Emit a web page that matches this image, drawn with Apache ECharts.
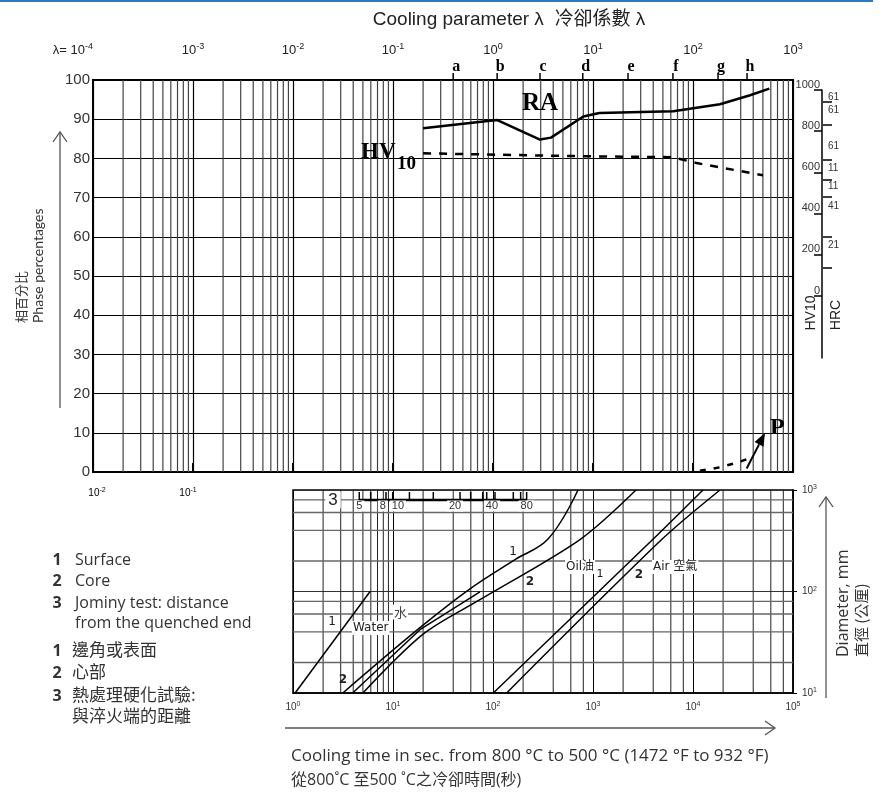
<!DOCTYPE html>
<html><head><meta charset="utf-8">
<script src="https://cdn.jsdelivr.net/npm/echarts@6.0.0/dist/echarts.min.js"></script>
<style>html,body{margin:0;padding:0;background:#fff;}#c{width:883px;height:792px;}</style>
</head><body><div id="c"></div>
<script>
// ---------- Upper chart: cooling parameter λ vs phase percentage ----------
const lambdaLetters = ['a','b','c','d','e','f','g','h'];
const lambdaLetterValues = [0.40, 1.1, 2.95, 7.9, 22.4, 63, 178, 347];
const raLambda = [0.2, 1.09, 2.95, 3.8, 8.0, 11.6, 63.5, 186, 372, 580];
const raPercent = [87.7, 89.8, 84.8, 85.3, 90.7, 91.6, 92.0, 93.8, 96.1, 97.8];
const hvLambda = [0.2, 5.9, 63, 109, 501];
const hvPercent = [81.3, 80.6, 80.3, 78.8, 75.7];
const pLambda = [117, 186, 275, 389];
const pPercent = [0.3, 1.2, 2.4, 3.7];
const pArrowFrom = [344, 0.9];
const pArrowTo = [525, 10];
// HV10 / HRC scale
const hvTicks = [0, 200, 400, 600, 800, 1000];
const hrcLabels = ['61', '61', '61', '11', '11', '41', '21'];
const hrcLabelHV = [967, 903, 725, 620, 531, 434, 248];
const hrcTickHV = [942, 830, 660, 563, 481, 286, 136];

// ---------- Lower chart: cooling time vs diameter ----------
const waterSurfaceTime = [1.05, 5.9];
const waterSurfaceDia = [10, 100];
const waterCoreTime = [3.95, 18.6, 74];
const waterCoreDia = [10, 42, 99];
const oilSurfaceTime = [3.15, 18.6, 57, 166, 357, 708];
const oilSurfaceDia = [10, 44, 104, 206, 330, 1000];
const oilCoreTime = [5.0, 20, 74, 741, 2692];
const oilCoreDia = [10, 38, 83, 325, 1000];
const airSurfaceTime = [100.7, 3954, 12589];
const airSurfaceDia = [10, 325, 1000];
const airCoreTime = [137, 4864, 18621];
const airCoreDia = [10, 325, 1000];
// Jominy distance scale (mm) placed at equivalent cooling times (s)
const jominyLabels = ['5', '8', '10', '20', '40', '80'];
const jominyLabelTime = [4.6, 7.9, 11.2, 41.7, 97.7, 217];
const jominyTickTime = [4.6, 5.98, 8.51, 9.93, 14.6, 25.3, 46.8, 59.8, 78.9, 86.5, 104.7, 159.6, 189, 217];

// ---------- helpers ----------
const zip = (a, b) => a.map((v, i) => [v, b[i]]);
const sansFont = '"Liberation Sans", Arial, sans-serif';
const expTxt = e => (e < 0 ? '-' + (-e) : '' + e);
function supLabel(v) {
  const e = Math.round(Math.log10(v));
  return '{b|10}{s|' + expTxt(e) + '}';
}
const richBig = {
  b: { fontSize: 13, color: '#222', fontFamily: sansFont },
  s: { fontSize: 9, color: '#222', fontFamily: sansFont, padding: [0, 0, 7, 0] }
};
const richSmall = {
  b: { fontSize: 10, color: '#333', fontFamily: sansFont },
  s: { fontSize: 7, color: '#333', fontFamily: sansFont, padding: [0, 0, 5, 0] }
};
function decadeMinor(lo, hi, mults) {
  const out = [];
  for (let k = lo; k < hi; k++) mults.forEach(m => out.push(m * Math.pow(10, k)));
  return out;
}
function vGridSeries(xi, yi, values, yv, color, width) {
  return {
    type: 'custom', xAxisIndex: xi, yAxisIndex: yi, silent: true, z: 1,
    data: values.map(v => [v, yv]),
    renderItem(params, api) {
      const cs = params.coordSys;
      const x = api.coord([api.value(0), api.value(1)])[0];
      return { type: 'line', shape: { x1: x, y1: cs.y, x2: x, y2: cs.y + cs.height },
               style: { stroke: color, lineWidth: width } };
    }
  };
}
function hGridSeries(xi, yi, values, xv, color, width) {
  return {
    type: 'custom', xAxisIndex: xi, yAxisIndex: yi, silent: true, z: 1,
    data: values.map(v => [xv, v]),
    renderItem(params, api) {
      const cs = params.coordSys;
      const y = api.coord([api.value(0), api.value(1)])[1];
      return { type: 'line', shape: { x1: cs.x, y1: y, x2: cs.x + cs.width, y2: y },
               style: { stroke: color, lineWidth: width } };
    }
  };
}
function curve(xi, yi, t, d, extra) {
  return Object.assign({
    type: 'line', xAxisIndex: xi, yAxisIndex: yi, data: zip(t, d), symbol: 'none',
    lineStyle: { color: '#000', width: 1.5 }, silent: true, z: 5, animation: false
  }, extra || {});
}

const upperMinor = decadeMinor(-4, 3, [2,3,4,5,6,7,8,9]);
const lowerMinorX = decadeMinor(0, 1, [2,3,4,5,6,7,8,9]).concat(decadeMinor(1, 5, [2,4,6,8]));
const lowerMinorY = decadeMinor(1, 3, [2,4,6,8]);

const chart = echarts.init(document.getElementById('c'), null, { renderer: 'canvas' });

function txt(x, y, text, o) {
  return { type: 'text', x, y, silent: true, z: 20, rotation: (o && o.rot) || 0,
    style: Object.assign({ text, fill: '#333', font: '15px "Lato", sans-serif', align: 'left', verticalAlign: 'middle' }, (o && o.style) || {}) };
}
function arrowV(x, yBottom, yTop) {
  return [
    { type: 'line', shape: { x1: x, y1: yBottom, x2: x, y2: yTop }, style: { stroke: '#555', lineWidth: 1.3 }, silent: true },
    { type: 'polyline', shape: { points: [[x - 7, yTop + 10], [x, yTop], [x + 7, yTop + 10]] }, style: { stroke: '#555', lineWidth: 1.3, fill: null }, silent: true }
  ];
}

const legendFont = '16px "Open Sans", "Noto Sans CJK TC", sans-serif';
const cjkFont = '17px "Noto Sans CJK TC", sans-serif';
const serifBold = px => 'bold ' + px + 'px "Liberation Serif", "DejaVu Serif", serif';

const graphics = [
  { type: 'rect', shape: { x: 0, y: 0, width: 873, height: 2 }, style: { fill: '#2a7abf' }, silent: true },
  txt(509, 20, 'Cooling parameter λ  冷卻係數 λ', { style: { align: 'center', font: '19px "Liberation Sans", "Noto Sans CJK TC", sans-serif', fill: '#222' } }),
  // left axis title
  txt(38, 323, 'Phase percentages', { rot: Math.PI / 2, style: { align: 'left', font: '14px "Lato", sans-serif' } }),
  txt(21, 323, '相百分比', { rot: Math.PI / 2, style: { align: 'left', font: '13px "Noto Sans CJK TC", sans-serif' } }),
  ...arrowV(60, 408, 132),
  // RA / HV10 / P labels
  txt(522, 104, 'RA', { style: { font: serifBold(25), fill: '#000' } }),
  txt(361, 152, 'HV', { style: { font: serifBold(23), fill: '#000' } }),
  txt(397, 164, '10', { style: { font: serifBold(19), fill: '#000' } }),
  txt(770, 428, 'P', { style: { font: serifBold(24), fill: '#000' } }),
  // HV10 / HRC titles
  txt(811, 313, 'HV10', { rot: Math.PI / 2, style: { align: 'center', font: '14px "Liberation Sans", sans-serif', fill: '#222' } }),
  txt(836, 315, 'HRC', { rot: Math.PI / 2, style: { align: 'center', font: '14px "Liberation Sans", sans-serif', fill: '#222' } }),
  // stray bottom labels of upper plot
  { type: 'text', x: 97, y: 493, silent: true, style: { text: supLabel(0.01), rich: richSmall, align: 'center', verticalAlign: 'middle' } },
  { type: 'text', x: 188, y: 493, silent: true, style: { text: supLabel(0.1), rich: richSmall, align: 'center', verticalAlign: 'middle' } },
  // legend
  txt(57, 560, '1', { style: { font: 'bold ' + legendFont, align: 'center' } }),
  txt(75, 560, 'Surface', { style: { font: legendFont } }),
  txt(57, 581, '2', { style: { font: 'bold ' + legendFont, align: 'center' } }),
  txt(75, 581, 'Core', { style: { font: legendFont } }),
  txt(57, 603, '3', { style: { font: 'bold ' + legendFont, align: 'center' } }),
  txt(75, 603, 'Jominy test: distance', { style: { font: legendFont } }),
  txt(75, 623, 'from the quenched end', { style: { font: legendFont } }),
  txt(57, 651, '1', { style: { font: 'bold ' + legendFont, align: 'center' } }),
  txt(72, 650, '邊角或表面', { style: { font: cjkFont } }),
  txt(57, 673, '2', { style: { font: 'bold ' + legendFont, align: 'center' } }),
  txt(72, 672, '心部', { style: { font: cjkFont } }),
  txt(57, 696, '3', { style: { font: 'bold ' + legendFont, align: 'center' } }),
  txt(72, 695, '熱處理硬化試驗:', { style: { font: cjkFont } }),
  txt(72, 716, '與淬火端的距離', { style: { font: cjkFont } }),
  // lower chart labels
  txt(333, 500, '3', { style: { font: '17px "Liberation Sans", sans-serif', align: 'center', fill: '#222', backgroundColor: '#fff', padding: [0, 3] } }),
  txt(332, 622, '1', { style: { font: '12px "DejaVu Sans", sans-serif', align: 'center', fill: '#222' } }),
  txt(352, 628, 'Water', { style: { font: '12px "DejaVu Sans", sans-serif', fill: '#222', backgroundColor: '#fff', padding: [1, 1] } }),
  txt(393, 612, '水', { style: { font: '13px "Noto Sans CJK TC", sans-serif', fill: '#444', backgroundColor: '#fff', padding: [1, 1] } }),
  txt(343, 680, '2', { style: { font: 'bold 12px "DejaVu Sans", sans-serif', align: 'center', fill: '#222' } }),
  txt(513, 552, '1', { style: { font: '12px "DejaVu Sans", sans-serif', align: 'center', fill: '#222' } }),
  txt(530, 582, '2', { style: { font: 'bold 12px "DejaVu Sans", sans-serif', align: 'center', fill: '#222' } }),
  txt(565, 567, 'Oil油', { style: { font: '12px "DejaVu Sans", "Noto Sans CJK TC", sans-serif', fill: '#222', backgroundColor: '#fff', padding: [1, 1] } }),
  txt(600, 574, '1', { style: { font: '11px "DejaVu Sans", sans-serif', align: 'center', fill: '#222' } }),
  txt(652, 567, 'Air 空氣', { style: { font: '12px "DejaVu Sans", "Noto Sans CJK TC", sans-serif', fill: '#222', backgroundColor: '#fff', padding: [1, 1] } }),
  txt(639, 575, '2', { style: { font: 'bold 12px "DejaVu Sans", sans-serif', align: 'center', fill: '#222' } }),
  // right titles of lower chart
  ...arrowV(826, 698, 497),
  txt(843, 657, 'Diameter, mm', { rot: Math.PI / 2, style: { font: '16px "Open Sans", sans-serif' } }),
  txt(861, 657, '直徑 (公厘)', { rot: Math.PI / 2, style: { font: '15px "Noto Sans CJK TC", sans-serif' } }),
  // bottom arrow and titles
  { type: 'line', shape: { x1: 285, y1: 728, x2: 775, y2: 728 }, style: { stroke: '#555', lineWidth: 1.3 }, silent: true },
  { type: 'polyline', shape: { points: [[765, 721], [775, 728], [765, 735]] }, style: { stroke: '#555', lineWidth: 1.3, fill: null }, silent: true },
  txt(291, 756, 'Cooling time in sec. from 800 °C to 500 °C (1472 °F to 932 °F)', { style: { font: '17px "Open Sans", sans-serif' } }),
  txt(291, 780, '從800˚C 至500 ˚C之冷卻時間(秒)', { style: { font: '16px "Open Sans", "Noto Sans CJK TC", sans-serif' } })
];

const option = {
  animation: false,
  backgroundColor: '#fff',
  grid: [
    { left: 93, top: 80, width: 700, height: 392, show: true, borderColor: '#000', borderWidth: 2, backgroundColor: 'transparent' },
    { left: 293, top: 490, width: 500, height: 203, show: true, borderColor: '#000', borderWidth: 1.5, backgroundColor: 'transparent' },
    { left: 822, top: 90, width: 1, height: 268 }
  ],
  xAxis: [
    { gridIndex: 0, type: 'log', logBase: 10, min: 1e-4, max: 1e3, position: 'top',
      axisLine: { show: true, lineStyle: { color: '#000', width: 2 } },
      axisTick: { show: true, length: 9, lineStyle: { color: '#000', width: 2 } },
      axisLabel: { margin: 22, rich: richBig, alignMinLabel: 'right',
        formatter: (v, i) => (i === 0 ? '{b|λ= 10}{s|' : '{b|10}{s|') + expTxt(Math.round(Math.log10(v))) + '}' },
      splitLine: { show: true, lineStyle: { color: '#000', width: 1.2 } } },
    { gridIndex: 1, type: 'log', logBase: 10, min: 1, max: 1e5, position: 'bottom',
      axisLine: { show: true, lineStyle: { color: '#000', width: 1.5 } },
      axisTick: { show: false },
      axisLabel: { margin: 8, rich: richSmall, formatter: v => supLabel(v) },
      splitLine: { show: true, lineStyle: { color: '#000', width: 1 } } },
    { gridIndex: 2, type: 'value', show: false, min: 0, max: 1 }
  ],
  yAxis: [
    { gridIndex: 0, type: 'value', min: 0, max: 100, interval: 10,
      axisLine: { show: true, lineStyle: { color: '#000', width: 2 } },
      axisTick: { show: false },
      axisLabel: { fontSize: 15, color: '#333', margin: 3, fontFamily: sansFont },
      splitLine: { show: true, lineStyle: { color: '#000', width: 1 } } },
    { gridIndex: 1, type: 'log', logBase: 10, min: 10, max: 1000, position: 'right',
      axisLine: { show: true, lineStyle: { color: '#000', width: 1.5 } },
      axisTick: { show: true, length: 4, lineStyle: { color: '#000' } },
      axisLabel: { margin: 9, rich: richSmall, formatter: v => supLabel(v) },
      splitLine: { show: true, lineStyle: { color: '#333', width: 1.2 } } },
    { gridIndex: 2, type: 'value', position: 'left', min: -300, max: 1000,
      axisLine: { show: true, onZero: false, lineStyle: { color: '#000', width: 1.5 } },
      axisTick: { show: true, length: 8, customValues: hvTicks, lineStyle: { color: '#000', width: 1.5 } },
      axisLabel: { customValues: hvTicks, fontSize: 11, color: '#333', margin: 2, verticalAlign: 'bottom', fontFamily: sansFont,
        formatter: v => String(v) },
      splitLine: { show: false } },
    { gridIndex: 2, type: 'value', position: 'right', min: -300, max: 1000,
      axisLine: { show: false, onZero: false },
      axisTick: { show: true, length: 9, customValues: hrcTickHV, lineStyle: { color: '#000', width: 1.5 } },
      axisLabel: { customValues: hrcLabelHV, fontSize: 10, color: '#333', margin: 5, fontFamily: sansFont,
        formatter: v => hrcLabels[hrcLabelHV.indexOf(v)] || '' },
      splitLine: { show: false } }
  ],
  series: [
    vGridSeries(0, 0, upperMinor, 0, '#444', 1.2),
    vGridSeries(1, 1, lowerMinorX, 10, '#222', 1),
    hGridSeries(1, 1, lowerMinorY, 1, '#666', 1.4),
    curve(0, 0, raLambda, raPercent, { lineStyle: { color: '#000', width: 2.5 } }),
    curve(0, 0, hvLambda, hvPercent, { lineStyle: { color: '#000', width: 2.5, type: [8, 8] } }),
    curve(0, 0, pLambda, pPercent, { lineStyle: { color: '#000', width: 2.5, type: [6, 8] } }),
    { type: 'custom', xAxisIndex: 0, yAxisIndex: 0, silent: true, z: 6,
      data: [[pArrowFrom[0], pArrowFrom[1], pArrowTo[0], pArrowTo[1]]],
      encode: { x: [0, 2], y: [1, 3] },
      renderItem(params, api) {
        const a = api.coord([api.value(0), api.value(1)]);
        const b = api.coord([api.value(2), api.value(3)]);
        const ang = Math.atan2(b[1] - a[1], b[0] - a[0]);
        const L = 13, W = 5;
        const bx = b[0] - L * Math.cos(ang), by = b[1] - L * Math.sin(ang);
        const nx = -Math.sin(ang) * W, ny = Math.cos(ang) * W;
        return { type: 'group', children: [
          { type: 'line', shape: { x1: a[0], y1: a[1], x2: bx, y2: by }, style: { stroke: '#000', lineWidth: 2 } },
          { type: 'polygon', shape: { points: [[b[0], b[1]], [bx + nx, by + ny], [bx - nx, by - ny]] }, style: { fill: '#000' } }
        ] };
      } },
    { type: 'custom', xAxisIndex: 0, yAxisIndex: 0, silent: true, z: 6, clip: false,
      data: lambdaLetterValues.map(v => [v, 100]),
      renderItem(params, api) {
        const p = api.coord([api.value(0), api.value(1)]);
        return { type: 'group', children: [
          { type: 'line', shape: { x1: p[0], y1: p[1] - 7, x2: p[0], y2: p[1] }, style: { stroke: '#000', lineWidth: 1.5 } },
          { type: 'text', x: p[0] + 3, y: p[1] - 13, style: { text: lambdaLetters[params.dataIndex], font: serifBold(16), fill: '#000', align: 'center', verticalAlign: 'middle' } }
        ] };
      } },
    curve(1, 1, waterSurfaceTime, waterSurfaceDia),
    curve(1, 1, waterCoreTime, waterCoreDia),
    curve(1, 1, oilSurfaceTime, oilSurfaceDia, { smooth: 0.4 }),
    curve(1, 1, oilCoreTime, oilCoreDia, { smooth: 0.3 }),
    curve(1, 1, airSurfaceTime, airSurfaceDia, { smooth: 0.3 }),
    curve(1, 1, airCoreTime, airCoreDia, { smooth: 0.3 }),
    { type: 'custom', xAxisIndex: 1, yAxisIndex: 1, silent: true, z: 8, clip: false,
      data: [[1, 1000]],
      renderItem(params, api) {
        const top = api.coord([1, 1000])[1];
        const xs = jominyTickTime.map(t => api.coord([t, 1000])[0]);
        const children = [
          { type: 'line', shape: { x1: xs[0], y1: top + 10, x2: xs[xs.length - 1], y2: top + 10 }, style: { stroke: '#000', lineWidth: 2.5 } }
        ];
        xs.forEach(x => children.push({ type: 'line', shape: { x1: x, y1: top + 2, x2: x, y2: top + 10 }, style: { stroke: '#000', lineWidth: 1.5 } }));
        jominyLabelTime.forEach((t, i) => {
          const x = api.coord([t, 1000])[0];
          children.push({ type: 'text', x, y: top + 16, style: { text: jominyLabels[i], font: '11px "Liberation Sans", sans-serif', fill: '#333', align: 'center', verticalAlign: 'middle', backgroundColor: '#fff', padding: [0, 2] } });
        });
        return { type: 'group', children };
      } }
  ],
  graphic: graphics
};
chart.setOption(option);
</script>
</body></html>
